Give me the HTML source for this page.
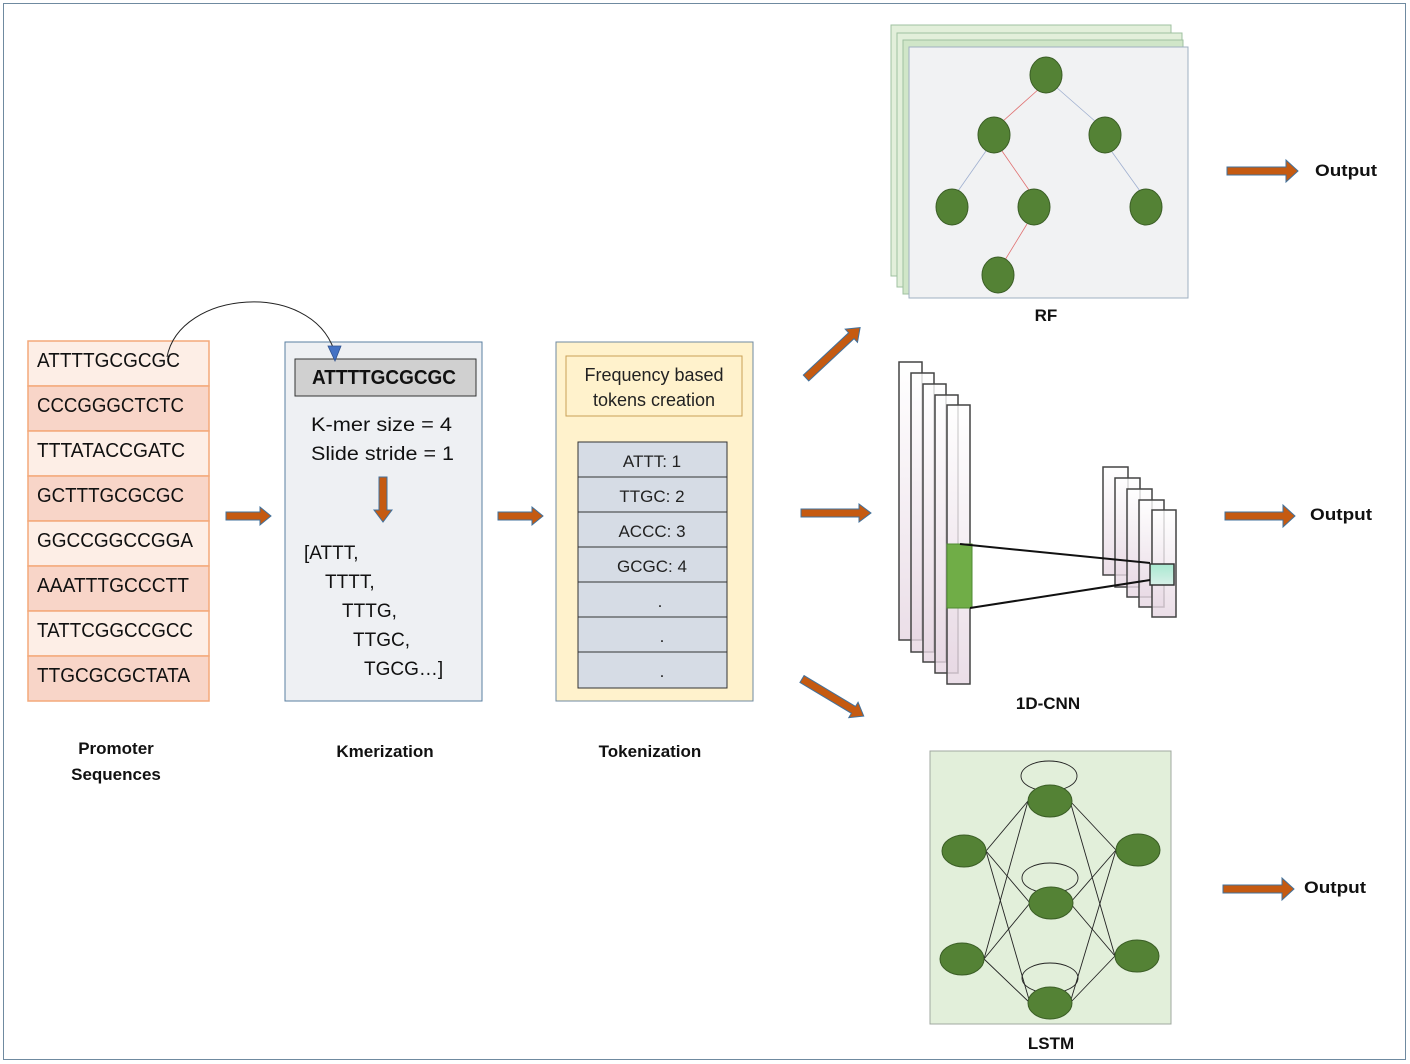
<!DOCTYPE html>
<html><head><meta charset="utf-8"><style>
html,body{margin:0;padding:0;background:#fff}
svg{display:block}
text{font-family:"Liberation Sans",sans-serif}
.lbl{font-weight:bold;font-size:17px;fill:#111}
.ar{fill:#c55a11;stroke:#41719c;stroke-width:1}
.nd{fill:#548235;stroke:#3b5e26;stroke-width:1}
</style></head><body>
<svg width="1410" height="1064" viewBox="0 0 1410 1064" xmlns="http://www.w3.org/2000/svg">
<rect x="3.5" y="3.5" width="1402" height="1056" fill="#fff" stroke="#6f8aa0" stroke-width="1"/>

<!-- Sequences -->
<g stroke="#f4a97a" stroke-width="1.5">
<rect x="28" y="341" width="181" height="45" fill="#fdeee6"/>
<rect x="28" y="386" width="181" height="45" fill="#f8d5c8"/>
<rect x="28" y="431" width="181" height="45" fill="#fdeee6"/>
<rect x="28" y="476" width="181" height="45" fill="#f8d5c8"/>
<rect x="28" y="521" width="181" height="45" fill="#fdeee6"/>
<rect x="28" y="566" width="181" height="45" fill="#f8d5c8"/>
<rect x="28" y="611" width="181" height="45" fill="#fdeee6"/>
<rect x="28" y="656" width="181" height="45" fill="#f8d5c8"/>
</g>
<g font-size="20" fill="#111" lengthAdjust="spacingAndGlyphs">
<text x="37" y="367" textLength="143" lengthAdjust="spacingAndGlyphs">ATTTTGCGCGC</text>
<text x="37" y="412" textLength="147" lengthAdjust="spacingAndGlyphs">CCCGGGCTCTC</text>
<text x="37" y="457" textLength="148" lengthAdjust="spacingAndGlyphs">TTTATACCGATC</text>
<text x="37" y="502" textLength="147" lengthAdjust="spacingAndGlyphs">GCTTTGCGCGC</text>
<text x="37" y="547" textLength="156" lengthAdjust="spacingAndGlyphs">GGCCGGCCGGA</text>
<text x="37" y="592" textLength="152" lengthAdjust="spacingAndGlyphs">AAATTTGCCCTT</text>
<text x="37" y="637" textLength="156" lengthAdjust="spacingAndGlyphs">TATTCGGCCGCC</text>
<text x="37" y="682" textLength="153" lengthAdjust="spacingAndGlyphs">TTGCGCGCTATA</text>
</g>
<text class="lbl" x="116" y="754" text-anchor="middle">Promoter</text>
<text class="lbl" x="116" y="780" text-anchor="middle">Sequences</text>

<!-- Kmerization -->
<rect x="285" y="342" width="197" height="359" fill="#eef0f3" stroke="#5a7fa0" stroke-width="1"/>
<rect x="295" y="359" width="181" height="37" fill="#d0d0d0" stroke="#333" stroke-width="1"/>
<text x="312" y="384" font-size="20" font-weight="bold" fill="#111" textLength="144" lengthAdjust="spacingAndGlyphs">ATTTTGCGCGC</text>
<g font-size="19" fill="#111">
<text x="311" y="431" textLength="141" lengthAdjust="spacingAndGlyphs">K-mer size  = 4</text>
<text x="311" y="460" textLength="143" lengthAdjust="spacingAndGlyphs">Slide stride = 1</text>
<text x="304" y="559">[ATTT,</text>
<text x="325" y="588">TTTT,</text>
<text x="342" y="617">TTTG,</text>
<text x="353" y="646">TTGC,</text>
<text x="364" y="675">TGCG…]</text>
</g>
<polygon class="ar" points="379,477 387,477 387,510 392,510 383,522 374,510 379,510"/>
<text class="lbl" x="385" y="757" text-anchor="middle">Kmerization</text>

<!-- curved arrow -->
<path d="M167,357 C180,290 310,280 334,350" fill="none" stroke="#222" stroke-width="1"/>
<polygon points="328,346 341,346 335,361" fill="#4472c4" stroke="#2f528f" stroke-width="0.8"/>

<!-- Tokenization -->
<rect x="556" y="342" width="197" height="359" fill="#fff2cc" stroke="#6f8aa0" stroke-width="1"/>
<rect x="566" y="356" width="176" height="60" fill="#fff2cc" stroke="#c9a056" stroke-width="1"/>
<g font-size="18" fill="#222" text-anchor="middle">
<text x="654" y="381">Frequency based</text>
<text x="654" y="406">tokens creation</text>
</g>
<g stroke="#333" stroke-width="1" fill="#d6dce5">
<rect x="578" y="442" width="149" height="35"/>
<rect x="578" y="477" width="149" height="35"/>
<rect x="578" y="512" width="149" height="35"/>
<rect x="578" y="547" width="149" height="35"/>
<rect x="578" y="582" width="149" height="35"/>
<rect x="578" y="617" width="149" height="35"/>
<rect x="578" y="652" width="149" height="36"/>
</g>
<g font-size="17" fill="#222" text-anchor="middle">
<text x="652" y="467">ATTT: 1</text>
<text x="652" y="502">TTGC: 2</text>
<text x="652" y="537">ACCC: 3</text>
<text x="652" y="572">GCGC: 4</text>
<text x="660" y="607">.</text>
<text x="662" y="642">.</text>
<text x="662" y="677">.</text>
</g>
<text class="lbl" x="650" y="757" text-anchor="middle">Tokenization</text>

<!-- horizontal arrows -->
<polygon class="ar" points="226,512 260,512 260,507 271,516 260,525 260,520 226,520"/>
<polygon class="ar" points="498,512 532,512 532,507 543,516 532,525 532,520 498,520"/>
<polygon class="ar" points="801,509 859,509 859,504 871,513 859,522 859,517 801,517"/>
<polygon class="ar" points="1227,167 1286,167 1286,160 1298,171 1286,182 1286,175 1227,175"/>
<polygon class="ar" points="1225,512 1283,512 1283,505 1295,516 1283,527 1283,520 1225,520"/>
<polygon class="ar" points="1223,885 1282,885 1282,878 1294,889 1282,900 1282,893 1223,893"/>
<g transform="translate(806,378) rotate(-43)">
<polygon class="ar" points="0,-4 62,-4 62,-9 74,0 62,9 62,4 0,4"/>
</g>
<g transform="translate(802,679) rotate(31)">
<polygon class="ar" points="0,-4 60,-4 60,-9 72,0 60,9 60,4 0,4"/>
</g>
<g class="lbl" font-size="19">
<text x="1315" y="176" textLength="62" lengthAdjust="spacingAndGlyphs">Output</text>
<text x="1310" y="520" textLength="62" lengthAdjust="spacingAndGlyphs">Output</text>
<text x="1304" y="893" textLength="62" lengthAdjust="spacingAndGlyphs">Output</text>
</g>

<!-- RF -->
<rect x="891" y="25" width="280" height="251" fill="#e2efda" stroke="#9fc0a0" stroke-width="1"/>
<rect x="897" y="33" width="285" height="254" fill="#e2efda" stroke="#9fc0a0" stroke-width="1"/>
<rect x="903" y="40" width="280" height="254" fill="#d0e6c8" stroke="#9fc0a0" stroke-width="1"/>
<rect x="909" y="47" width="279" height="251" fill="#f1f2f3" stroke="#9fb0c0" stroke-width="1"/>
<g stroke-width="0.8" fill="none">
<line x1="1040" y1="88" x2="1002" y2="122" stroke="#e07070"/>
<line x1="1056" y1="87" x2="1096" y2="122" stroke="#a0b0d0"/>
<line x1="986" y1="151" x2="958" y2="191" stroke="#a0b0d0"/>
<line x1="1002" y1="151" x2="1029" y2="190" stroke="#e07070"/>
<line x1="1112" y1="152" x2="1140" y2="191" stroke="#a0b0d0"/>
<line x1="1027" y1="224" x2="1005" y2="260" stroke="#e07070"/>
</g>
<g class="nd">
<ellipse cx="1046" cy="75" rx="16" ry="18"/>
<ellipse cx="994" cy="135" rx="16" ry="18"/>
<ellipse cx="1105" cy="135" rx="16" ry="18"/>
<ellipse cx="952" cy="207" rx="16" ry="18"/>
<ellipse cx="1034" cy="207" rx="16" ry="18"/>
<ellipse cx="1146" cy="207" rx="16" ry="18"/>
<ellipse cx="998" cy="275" rx="16" ry="18"/>
</g>
<text class="lbl" x="1046" y="321" text-anchor="middle">RF</text>

<!-- 1D CNN -->
<defs>
<linearGradient id="pg" x1="0" y1="0" x2="0" y2="1">
<stop offset="0" stop-color="#ffffff"/><stop offset="1" stop-color="#e6d6e2"/>
</linearGradient>
<linearGradient id="cg" x1="0" y1="0" x2="0" y2="1">
<stop offset="0" stop-color="#a8e8d0"/><stop offset="1" stop-color="#d8f0e8"/>
</linearGradient>
</defs>
<g stroke="#444" stroke-width="1.5" fill="url(#pg)" fill-opacity="0.8">
<rect x="899" y="362" width="23" height="278"/>
<rect x="911" y="373" width="23" height="279"/>
<rect x="923" y="384" width="23" height="278"/>
<rect x="935" y="395" width="23" height="278"/>
<rect x="947" y="405" width="23" height="279"/>
<rect x="1103" y="467" width="25" height="108"/>
<rect x="1115" y="478" width="25" height="109"/>
<rect x="1127" y="489" width="25" height="108"/>
<rect x="1139" y="500" width="25" height="107"/>
<rect x="1152" y="510" width="24" height="107"/>
</g>
<rect x="947" y="544" width="25" height="64" fill="#70ad47" stroke="#4e8a30" stroke-width="1"/>
<rect x="1150" y="564" width="24" height="21" fill="url(#cg)" stroke="#333" stroke-width="1.5"/>
<line x1="960" y1="544" x2="1150" y2="563" stroke="#111" stroke-width="2"/>
<line x1="970" y1="608" x2="1150" y2="580" stroke="#111" stroke-width="2"/>
<text class="lbl" x="1048" y="709" text-anchor="middle">1D-CNN</text>

<!-- LSTM -->
<rect x="930" y="751" width="241" height="273" fill="#e2efda" stroke="#a0a8a0" stroke-width="1"/>
<g fill="none" stroke="#222" stroke-width="0.9">
<ellipse cx="1049" cy="776" rx="28" ry="15"/>
<ellipse cx="1050" cy="878" rx="28" ry="15"/>
<ellipse cx="1050" cy="978" rx="28" ry="15"/>
<line x1="986" y1="851" x2="1028" y2="801"/>
<line x1="986" y1="851" x2="1030" y2="903"/>
<line x1="986" y1="851" x2="1030" y2="1003"/>
<line x1="984" y1="959" x2="1028" y2="801"/>
<line x1="984" y1="959" x2="1030" y2="903"/>
<line x1="984" y1="959" x2="1030" y2="1003"/>
<line x1="1116" y1="850" x2="1070" y2="801"/>
<line x1="1116" y1="850" x2="1070" y2="903"/>
<line x1="1116" y1="850" x2="1070" y2="1003"/>
<line x1="1115" y1="956" x2="1070" y2="801"/>
<line x1="1115" y1="956" x2="1070" y2="903"/>
<line x1="1115" y1="956" x2="1070" y2="1003"/>
</g>
<g class="nd">
<ellipse cx="1050" cy="801" rx="22" ry="16"/>
<ellipse cx="1051" cy="903" rx="22" ry="16"/>
<ellipse cx="1050" cy="1003" rx="22" ry="16"/>
<ellipse cx="964" cy="851" rx="22" ry="16"/>
<ellipse cx="962" cy="959" rx="22" ry="16"/>
<ellipse cx="1138" cy="850" rx="22" ry="16"/>
<ellipse cx="1137" cy="956" rx="22" ry="16"/>
</g>
<text class="lbl" x="1051" y="1049" text-anchor="middle">LSTM</text>
</svg>
</body></html>
